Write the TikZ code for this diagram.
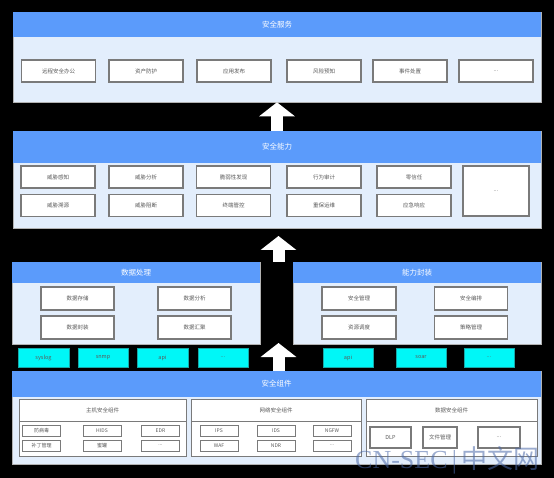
\documentclass[tikz,border=0pt]{standalone}
\usepackage{fontspec}
\setmainfont{Noto Sans CJK SC}
\newfontfamily\wmfont{Liberation Serif}
\newfontfamily\wmcjk{Noto Sans CJK SC}
\usetikzlibrary{arrows.meta}
\definecolor{hdblue}{HTML}{5B9BFB}
\definecolor{panelbg}{HTML}{E3EEFC}
\definecolor{boxline}{HTML}{7A7A7A}
\definecolor{txtgray}{HTML}{5A5A5A}
\definecolor{tagcyan}{HTML}{00F7F7}
\definecolor{tagline}{HTML}{17A8A8}
\definecolor{wmcolor}{HTML}{4A68A8}
\newcommand\bx[6]{\node[box, minimum width=#4pt, minimum height=#5pt] (#1) at (#2,#3) {#6};}
\newcommand\tg[5]{\node[tag, minimum width=#4pt, minimum height=19pt] (#1) at (#2,#3) {#5};}
\newcommand\sbx[5]{\node[smallbox, minimum width=#4pt, minimum height=11pt] (#1) at (#2,#3) {#5};}
\begin{document}
\begin{tikzpicture}[x=1pt,y=-1pt,
  panel/.style={draw=gray!60, line width=0.6pt, fill=panelbg, inner sep=0pt},
  head/.style={fill=hdblue, text=white, font=\fontsize{7.5}{8}\selectfont, inner sep=0pt},
  box/.style={draw=boxline, line width=1.1pt, fill=white, text=txtgray, font=\fontsize{5.5}{6}\selectfont, inner sep=0pt},
  smallbox/.style={draw=boxline, line width=1pt, fill=white, text=txtgray, font=\fontsize{5}{5.5}\selectfont, inner sep=0pt},
  tag/.style={draw=tagline, line width=0.8pt, fill=tagcyan, text=txtgray, font=\fontsize{5.5}{6}\selectfont, inner sep=0pt},
  grp/.style={draw=boxline, line width=1pt, fill=white, inner sep=0pt},
  grptitle/.style={draw=boxline, line width=1pt, fill=white, text=txtgray, font=\fontsize{5.5}{6}\selectfont, inner sep=0pt},
  bigarrow/.style={draw=white, line width=12pt, -{Triangle[length=14pt,width=35pt]}}
]
\fill[black] (0,0) rectangle (554,478);
\useasboundingbox (0,0) rectangle (554,478);

% ---------- 安全服务 ----------
\node[panel, minimum width=528pt, minimum height=90pt] (svc) at (277,57) {};
\node[head, minimum width=528pt, minimum height=25pt] (svch) at (277,24.5) {安全服务};
\bx{s1}{58.5}{71}{74}{22}{远程安全办公}
\bx{s2}{146}{71}{74}{22}{资产防护}
\bx{s3}{234}{71}{74}{22}{应用发布}
\bx{s4}{324}{71}{74}{22}{风险预知}
\bx{s5}{410}{71}{74}{22}{事件处置}
\bx{s6}{496}{71}{74}{22}{...}

% ---------- 安全能力 ----------
\node[panel, minimum width=528pt, minimum height=97pt] (cap) at (277,179.5) {};
\node[head, minimum width=528pt, minimum height=32pt] (caph) at (277,147) {安全能力};
\bx{c1}{58}{177}{74}{22}{威胁感知}
\bx{c2}{146}{177}{74}{22}{威胁分析}
\bx{c3}{233.5}{177}{74}{22}{脆弱性发现}
\bx{c4}{324}{177}{74}{22}{行为审计}
\bx{c5}{414}{177}{74}{22}{零信任}
\bx{c6}{58}{205.5}{74}{22}{威胁溯源}
\bx{c7}{146}{205.5}{74}{22}{威胁阻断}
\bx{c8}{233.5}{205.5}{74}{22}{终端管控}
\bx{c9}{324}{205.5}{74}{22}{重保运维}
\bx{c10}{414}{205.5}{74}{22}{应急响应}
\bx{c11}{496}{191}{66}{50}{...}

% ---------- 数据处理 ----------
\node[panel, minimum width=248pt, minimum height=82pt] (dp) at (136,303) {};
\node[head, minimum width=248pt, minimum height=21pt] (dph) at (136,272.5) {数据处理};
\bx{d1}{77.5}{298.5}{73}{23}{数据存储}
\bx{d2}{194.5}{298.5}{73}{23}{数据分析}
\bx{d3}{77.5}{327.5}{73}{23}{数据封装}
\bx{d4}{194.5}{327.5}{73}{23}{数据汇聚}

% ---------- 能力封装 ----------
\node[panel, minimum width=248pt, minimum height=82pt] (ap) at (417,303) {};
\node[head, minimum width=248pt, minimum height=21pt] (aph) at (417,272.5) {能力封装};
\bx{e1}{359}{298.5}{74}{23}{安全管理}
\bx{e2}{471}{298.5}{73}{23}{安全编排}
\bx{e3}{359}{327.5}{74}{23}{资源调度}
\bx{e4}{471}{327.5}{73}{23}{策略管理}

% ---------- 接口 ----------
\tg{t1}{43.5}{357.5}{51}{syslog}
\tg{t2}{103}{357.5}{50}{snmp}
\tg{t3}{162.5}{357.5}{51}{api}
\tg{t4}{223}{357.5}{50}{...}
\tg{t5}{348}{357.5}{50}{api}
\tg{t6}{421}{357.5}{50}{soar}
\tg{t7}{489}{357.5}{50}{...}

% ---------- 安全组件 ----------
\node[panel, minimum width=529pt, minimum height=93pt] (comp) at (276.5,417.5) {};
\node[head, minimum width=529pt, minimum height=26pt] (comph) at (276.5,384) {安全组件};

\node[grp, minimum width=167pt, minimum height=57pt] (hostg) at (102.5,427.5) {};
\node[grptitle, minimum width=167pt, minimum height=22pt] (hostt) at (102.5,410) {主机安全组件};
\sbx{h1}{41.5}{430.5}{38}{防病毒}
\sbx{h2}{102}{430.5}{38}{HIDS}
\sbx{h3}{160.5}{430.5}{38}{EDR}
\sbx{h4}{41.5}{445.5}{38}{补丁管理}
\sbx{h5}{102}{445.5}{38}{蜜罐}
\sbx{h6}{160.5}{445.5}{38}{...}

\node[grp, minimum width=170pt, minimum height=57pt] (netg) at (276,427.5) {};
\node[grptitle, minimum width=170pt, minimum height=22pt] (nett) at (276,410) {网络安全组件};
\sbx{n1}{219}{430.5}{38}{IPS}
\sbx{n2}{276}{430.5}{38}{IDS}
\sbx{n3}{332}{430.5}{38}{NGFW}
\sbx{n4}{219}{445.5}{38}{WAF}
\sbx{n5}{276}{445.5}{38}{NDR}
\sbx{n6}{332}{445.5}{38}{...}

\node[grp, minimum width=171pt, minimum height=57pt] (datg) at (451.5,427.5) {};
\node[grptitle, minimum width=171pt, minimum height=22pt] (datt) at (451.5,410) {数据安全组件};
\bx{g1}{390.5}{437.5}{41}{21}{DLP}
\bx{g2}{440}{437.5}{34}{21}{文件管理}
\bx{g3}{499}{437.5}{42}{21}{...}

% ---------- arrows ----------
\draw[bigarrow] (cap.north) -- (svc.south);
\coordinate (a2s) at (278.5,262);
\coordinate (a2t) at (278.5,236);
\draw[bigarrow] (a2s) -- (a2t);
\coordinate (a3s) at (278.5,371);
\coordinate (a3t) at (278.5,343);
\draw[bigarrow] (a3s) -- (a3t);

% ---------- watermark ----------
\node[text=wmcolor, text opacity=0.55, inner sep=0pt, anchor=west] (wm) at (355,460)
  {\wmfont\fontsize{26}{26}\selectfont CN-SEC\,|\,\wmcjk 中文网};
\end{tikzpicture}
\end{document}
